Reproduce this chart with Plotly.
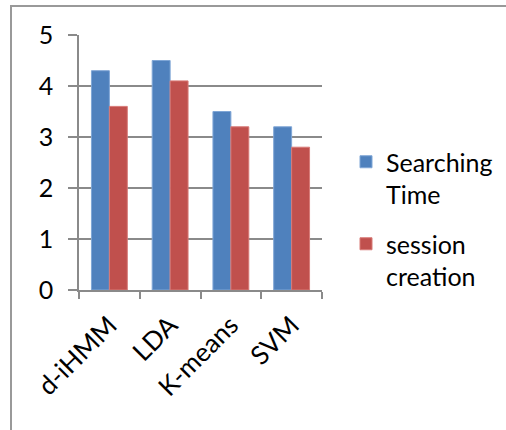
import plotly.graph_objects as go

# Chart data
methods = ["d-iHMM", "LDA", "K-means", "SVM"]
searching_time = [4.3, 4.5, 3.5, 3.2]
session_creation = [3.6, 4.1, 3.2, 2.8]
y_ticks = [0, 1, 2, 3, 4, 5]

W, H = 506, 430
L, R, T, B = 79, 184, 35, 140
PW, PH = W - L - R, H - T - B

def px_to_paper_x(px):
    return (px - L) / PW

def px_to_paper_y(py):
    return (H - B - py) / PH

FONT = "Lato, Carlito, Calibri, sans-serif"
GRID = "#8a8a8a"

fig = go.Figure()
fig.add_trace(go.Bar(
    x=methods, y=searching_time, name="Searching<br>Time",
    marker=dict(color="#4F81BD", line=dict(color="#7fa6d6", width=1)),
    legendgroup="a",
))
fig.add_trace(go.Bar(
    x=methods, y=session_creation, name="session<br>creation",
    marker=dict(color="#C0504D", line=dict(color="#d87a77", width=1)),
    legendgroup="b",
))

# outer chart frame (top and left edges visible)
fig.add_shape(
    type="rect", xref="paper", yref="paper",
    x0=px_to_paper_x(11), x1=px_to_paper_x(540),
    y0=px_to_paper_y(470), y1=px_to_paper_y(6),
    line=dict(color="#999999", width=2), fillcolor="rgba(0,0,0,0)",
    layer="below",
)

fig.update_layout(
    width=W, height=H,
    margin=dict(l=L, r=R, t=T, b=B, autoexpand=False),
    paper_bgcolor="white", plot_bgcolor="white",
    barmode="group", bargap=0.41, bargroupgap=0,
    font=dict(family=FONT, color="black"),
    showlegend=True,
    legend=dict(
        x=px_to_paper_x(346), y=px_to_paper_y(139),
        xanchor="left", yanchor="top",
        font=dict(family=FONT, size=25, color="black"),
        valign="top", tracegroupgap=14,
        bgcolor="rgba(0,0,0,0)",
    ),
    xaxis=dict(
        type="category",
        showline=True, linecolor=GRID, linewidth=1.5,
        ticks="outside", tickson="boundaries", ticklen=7,
        tickcolor=GRID, tickwidth=1.5,
        tickangle=-45, tickfont=dict(family=FONT, size=26),
        ticklabelstandoff=8,
        showgrid=False, automargin=False,
    ),
    yaxis=dict(
        range=[0, 5], tickvals=y_ticks,
        showline=True, linecolor=GRID, linewidth=1.5,
        ticks="outside", ticklen=9, tickcolor=GRID, tickwidth=1.5,
        showgrid=True, gridcolor=GRID, gridwidth=1.5,
        zeroline=False, automargin=False,
        tickfont=dict(family=FONT, size=25),
        ticklabelstandoff=10,
    ),
)

fig.write_html("out.html")
